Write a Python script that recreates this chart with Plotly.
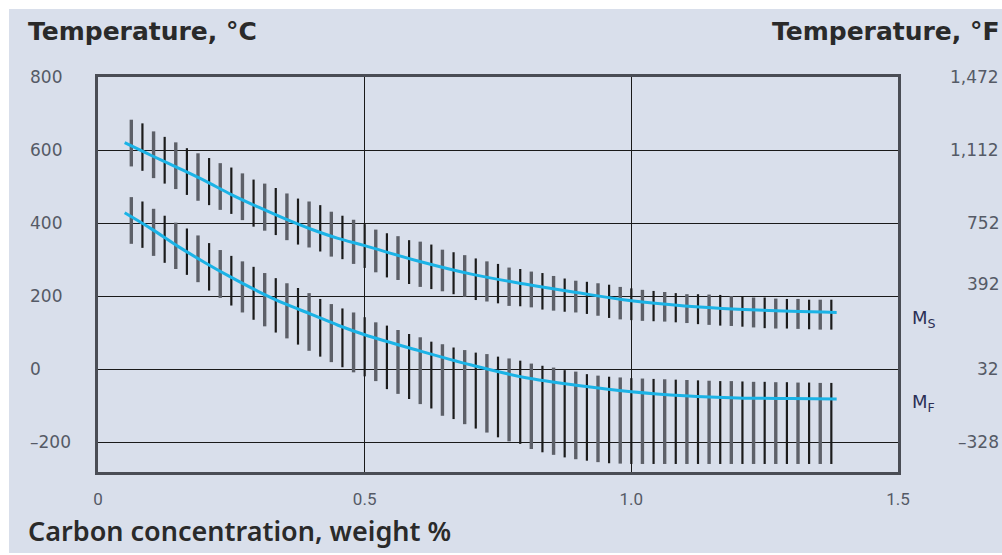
import plotly.graph_objects as go

# ---- data -----------------------------------------------------------------
# carbon content (wt %) of the individual measurement ranges
carbon = [0.0625, 0.0833, 0.1042, 0.125, 0.1458, 0.1667, 0.1875, 0.2083,
          0.2292, 0.25, 0.2708, 0.2917, 0.3125, 0.3333, 0.3542, 0.375,
          0.3958, 0.4167, 0.4375, 0.4583, 0.4792, 0.5, 0.5208, 0.5417,
          0.5625, 0.5833, 0.6042, 0.625, 0.6458, 0.6667, 0.6875, 0.7083,
          0.7292, 0.75, 0.7708, 0.7917, 0.8125, 0.8333, 0.8542, 0.875,
          0.8958, 0.9167, 0.9375, 0.9583, 0.9792, 1.0, 1.0208, 1.0417,
          1.0625, 1.0833, 1.1042, 1.125, 1.1458, 1.1667, 1.1875, 1.2083,
          1.2292, 1.25, 1.2708, 1.2917, 1.3125, 1.3333, 1.3542, 1.375]

# martensite start (Ms) scatter band, °C
ms_high = [683, 673, 651, 636, 621, 605, 591, 578, 564, 552, 536, 519, 508,
           496, 481, 467, 459, 449, 431, 420, 409, 397, 382, 372, 364, 353,
           349, 341, 327, 320, 312, 303, 295, 288, 278, 274, 267, 263, 255,
           248, 242, 239, 235, 231, 225, 221, 217, 214, 211, 208, 205, 205,
           204, 203, 200, 198, 196, 196, 193, 192, 192, 190, 190, 190]
ms_low = [555, 543, 523, 508, 493, 477, 461, 449, 436, 425, 408, 390, 379,
          367, 353, 341, 333, 322, 308, 301, 288, 277, 265, 251, 244, 233,
          225, 219, 213, 205, 198, 189, 185, 180, 173, 172, 169, 163, 160,
          157, 155, 151, 146, 140, 136, 134, 132, 131, 130, 128, 126, 123,
          121, 119, 118, 116, 114, 112, 111, 111, 110, 109, 108, 108]

# martensite finish (Mf) scatter band, °C
mf_high = [471, 459, 439, 420, 401, 385, 366, 345, 326, 310, 295, 280, 263,
           249, 235, 222, 208, 192, 178, 166, 155, 142, 128, 119, 107, 96,
           87, 75, 68, 59, 52, 45, 41, 34, 29, 23, 15, 9, 4, -3, -7, -14,
           -18, -21, -23, -25, -26, -27, -28, -29, -30, -31, -32, -33, -33,
           -34, -35, -35, -36, -36, -37, -37, -38, -38]
mf_low = [343, 332, 310, 291, 274, 258, 238, 215, 195, 174, 155, 135, 117,
          100, 84, 67, 50, 34, 19, 5, -9, -20, -33, -55, -68, -82, -96,
          -108, -128, -137, -151, -163, -174, -187, -198, -205, -219, -228,
          -235, -242, -247, -251, -255, -258, -259, -260, -260, -260, -260,
          -260, -260, -260, -260, -260, -260, -260, -260, -260, -260, -260,
          -260, -260, -260, -260]

# mean transformation curves
curve_c = [0.05, 0.1, 0.15, 0.2, 0.25, 0.3, 0.35, 0.4, 0.45, 0.5, 0.6, 0.7,
           0.8, 0.9, 1.0, 1.1, 1.2, 1.3, 1.385]
ms_curve = [620, 585, 551, 516, 478, 444, 412, 383, 358, 338, 296, 260, 233,
            209, 187, 173, 164, 158, 155]
mf_curve = [428, 384, 336, 292, 251, 213, 179, 150, 120, 94, 51, 11, -23,
            -45, -62, -73, -79, -81, -82]

# axis labels
x_ticks = [0, 0.5, 1.0, 1.5]
x_tick_text = ["0", "0.5", "1.0", "1.5"]
c_ticks = [800, 600, 400, 200, 0, -200]
c_tick_text = ["800", "600", "400", "200", "0", "\u2013200"]
f_tick_text = ["1,472", "1,112", "752", "392", "32", "\u2013328"]

# ---- geometry ---------------------------------------------------------------
W, H = 1002, 555
ML, MR, MT, MB = 98, 104, 77, 83
PW, PH = W - ML - MR, H - MT - MB


def px(x):
    return (x - ML) / PW


def py(y):
    return (H - MB - y) / PH


BG = "#d9dfeb"
CURVE = "#1bb3e6"
TICK_FONT = dict(family="DejaVu Sans, Verdana, sans-serif", size=17, color="#555a66")
TITLE_FONT = dict(family="DejaVu Sans, Verdana, sans-serif", size=25, color="#2a2a2a",
                  weight="bold")

fig = go.Figure()


def band_segments(xs, lo, hi, parity):
    sx, sy = [], []
    for i, (x, a, b) in enumerate(zip(xs, lo, hi)):
        if i % 2 == parity:
            sx += [x, x, None]
            sy += [a, b, None]
    return sx, sy


for lo, hi in ((ms_low, ms_high), (mf_low, mf_high)):
    for parity, colour, width in ((0, "#5d6068", 3.4), (1, "#1c1c1c", 2.2)):
        sx, sy = band_segments(carbon, lo, hi, parity)
        fig.add_trace(go.Scatter(x=sx, y=sy, mode="lines",
                                 line=dict(color=colour, width=width),
                                 hoverinfo="skip", showlegend=False))

for ys in (ms_curve, mf_curve):
    fig.add_trace(go.Scatter(x=curve_c, y=ys, mode="lines",
                             line=dict(color=CURVE, width=3, shape="spline"),
                             showlegend=False))

annotations = []
for v, t in zip(c_ticks, c_tick_text):
    annotations.append(dict(x=px(28), xref="paper", y=v, yref="y", text=t,
                            showarrow=False, xanchor="left", yanchor="middle",
                            font=TICK_FONT))
for v, t in zip(c_ticks, f_tick_text):
    annotations.append(dict(x=px(1001), xref="paper", y=v, yref="y", text=t,
                            showarrow=False, xanchor="right", yanchor="middle",
                            yshift=12 if t == "392" else 0, font=TICK_FONT))

annotations += [
    dict(x=px(26), y=py(31), xref="paper", yref="paper", text="Temperature, °C",
         showarrow=False, xanchor="left", yanchor="middle", font=TITLE_FONT),
    dict(x=px(1002), y=py(31), xref="paper", yref="paper", text="Temperature, °F",
         showarrow=False, xanchor="right", yanchor="middle", font=TITLE_FONT),
    dict(x=px(26), y=py(530), xref="paper", yref="paper",
         text="Carbon concentration, weight %", showarrow=False,
         xanchor="left", yanchor="middle",
         font=dict(family="Noto Sans, Roboto, sans-serif", size=27,
                   color="#2a2a2a", weight=600)),
    dict(x=px(910), y=136, xref="paper", yref="y", text="M<sub>S</sub>",
         showarrow=False, xanchor="left", yanchor="middle",
         font=dict(family="DejaVu Sans, sans-serif", size=18, color="#2c2f55")),
    dict(x=px(910), y=-94, xref="paper", yref="y", text="M<sub>F</sub>",
         showarrow=False, xanchor="left", yanchor="middle",
         font=dict(family="DejaVu Sans, sans-serif", size=18, color="#2c2f55")),
]

shapes = [
    dict(type="rect", xref="paper", yref="paper", x0=px(0), x1=px(W), y0=py(0), y1=py(9),
         fillcolor="white", line=dict(width=0), layer="above"),
    dict(type="rect", xref="paper", yref="paper", x0=px(0), x1=px(9), y0=py(0), y1=py(H),
         fillcolor="white", line=dict(width=0), layer="above"),
    dict(type="rect", xref="paper", yref="paper", x0=px(0), x1=px(W), y0=py(553), y1=py(H),
         fillcolor="white", line=dict(width=0), layer="above"),
]

fig.update_layout(
    width=W, height=H,
    margin=dict(l=ML, r=MR, t=MT, b=MB, pad=0),
    paper_bgcolor=BG, plot_bgcolor=BG,
    showlegend=False,
    annotations=annotations,
    shapes=shapes,
    xaxis=dict(range=[0, 1.5], tickvals=x_ticks, ticktext=x_tick_text,
               showgrid=True, gridcolor="#1a1a1a", gridwidth=1.4,
               zeroline=False, showline=True, mirror=True,
               linecolor="#4a4d55", linewidth=2.5, ticks="",
               ticklabelstandoff=10,
               tickfont=dict(family="Roboto, sans-serif", size=17, color="#555a66")),
    yaxis=dict(range=[-282, 800], tickvals=c_ticks, showticklabels=False,
               showgrid=True, gridcolor="#1a1a1a", gridwidth=1.4,
               zeroline=False, showline=True, mirror=True,
               linecolor="#4a4d55", linewidth=2.5, ticks=""),
)

fig.write_html("out.html")
